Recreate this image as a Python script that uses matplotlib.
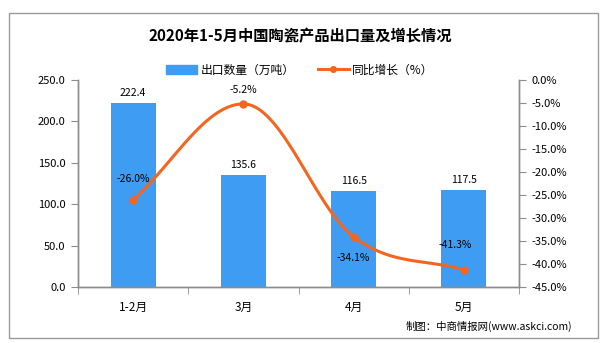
import numpy as np
import matplotlib
matplotlib.use("Agg")
import matplotlib.pyplot as plt
from matplotlib.patches import Rectangle
from matplotlib.lines import Line2D

plt.rcParams['font.family'] = ['Noto Sans CJK SC', 'DejaVu Sans']

categories = ['1-2月', '3月', '4月', '5月']
export_volume = [222.4, 135.6, 116.5, 117.5]
yoy_growth = [-26.0, -5.2, -34.1, -41.3]
left_ticks = [0, 50, 100, 150, 200, 250]
right_ticks = [0, -5, -10, -15, -20, -25, -30, -35, -40, -45]

W, H = 608, 343
fig = plt.figure(figsize=(W / 100, H / 100), dpi=100)
fig.patch.set_facecolor('white')

def fx(px): return px / W
def fy(py): return 1 - py / H

ax = fig.add_axes([fx(78), fy(287), fx(519) - fx(78), fy(80) - fy(287)])
ax2 = ax.twinx()

bar_color = '#3E9DF2'
line_color = '#F4651F'
spine_color = '#8C8C8C'

x = np.arange(len(categories))
ax.bar(x, export_volume, width=0.41, color=bar_color, zorder=2)
ax.set_xlim(-0.5, len(categories) - 0.5)
ax.set_ylim(0, 250)
ax.set_yticks(left_ticks)
ax.set_yticklabels([f'{v:.1f}' for v in left_ticks], fontsize=8)
ax.set_xticks(x)
ax.set_xticklabels(categories, fontsize=8.5)
ax.set_xticks(np.arange(-0.5, len(categories)), minor=True)
ax.tick_params(axis='x', which='major', length=0, pad=10)
ax.tick_params(axis='x', which='minor', length=5, color=spine_color, direction='out')
ax.tick_params(axis='y', length=5, color=spine_color, direction='out', pad=4)

for xi, v in zip(x, export_volume):
    ax.text(xi, v + 6, f'{v:.1f}', ha='center', va='bottom', fontsize=7.5, zorder=5)

# smooth curve through data points (monotone-style bezier, no overshoot)
def smooth(xs, ys, n=40, t=0.7):
    xs = np.asarray(xs, float); ys = np.asarray(ys, float)
    m = len(xs)
    slopes = np.zeros(m)
    for i in range(m):
        if i == 0:
            slopes[i] = (ys[1] - ys[0]) / (xs[1] - xs[0])
        elif i == m - 1:
            slopes[i] = (ys[-1] - ys[-2]) / (xs[-1] - xs[-2])
        else:
            d0 = ys[i] - ys[i - 1]
            d1 = ys[i + 1] - ys[i]
            if d0 * d1 <= 0:
                slopes[i] = 0.0
            else:
                slopes[i] = (ys[i + 1] - ys[i - 1]) / (xs[i + 1] - xs[i - 1])
    px, py = [], []
    for i in range(m - 1):
        x0, y0, x1, y1 = xs[i], ys[i], xs[i + 1], ys[i + 1]
        h = (x1 - x0) * t / 2
        c1x, c1y = x0 + h, y0 + slopes[i] * h
        c2x, c2y = x1 - h, y1 - slopes[i + 1] * h
        lo, hi = min(y0, y1), max(y0, y1)
        c1y = min(max(c1y, lo), hi)
        c2y = min(max(c2y, lo), hi)
        s = np.linspace(0, 1, n)
        bx = (1 - s) ** 3 * x0 + 3 * (1 - s) ** 2 * s * c1x + 3 * (1 - s) * s ** 2 * c2x + s ** 3 * x1
        by = (1 - s) ** 3 * y0 + 3 * (1 - s) ** 2 * s * c1y + 3 * (1 - s) * s ** 2 * c2y + s ** 3 * y1
        px.extend(bx); py.extend(by)
    return np.array(px), np.array(py)

sx, sy = smooth(x, yoy_growth)
ax2.plot(sx, sy, color=line_color, lw=2.2, zorder=3, solid_capstyle='round')
ax2.plot(x, yoy_growth, 'o', color=line_color, ms=5, zorder=4)
ax2.set_ylim(-45, 0)
ax2.set_yticks(right_ticks)
ax2.set_yticklabels([f'{v:.1f}%' for v in right_ticks], fontsize=8)
ax2.tick_params(axis='y', length=5, color=spine_color, direction='out', pad=4)

offsets = [(0, 3.5, 'bottom'), (0, 2.0, 'bottom'), (0, -3.5, 'top'), (-0.08, 4.3, 'bottom')]
for xi, v, (dx, dy, va) in zip(x, yoy_growth, offsets):
    ax2.text(xi + dx, v + dy, f'{v:.1f}%', ha='center', va=va, fontsize=7.5, zorder=5)

for a in (ax, ax2):
    a.spines['top'].set_visible(False)
    for s in ('left', 'right', 'bottom'):
        a.spines[s].set_color(spine_color)
        a.spines[s].set_linewidth(1.0)

# title
fig.text(fx(300), fy(36), '2020年1-5月中国陶瓷产品出口量及增长情况', ha='center', va='center',
         fontsize=11, fontweight='bold')

# legend
handles = [Rectangle((0, 0), 1, 1, color=bar_color),
           Line2D([0], [0], color=line_color, lw=2.2, marker='o', ms=4)]
fig.legend(handles, ['出口数量（万吨）', '同比增长（%）'], loc='center', bbox_to_anchor=(fx(300), fy(70)),
           ncol=2, frameon=False, fontsize=8.5, handlelength=2.6, handleheight=0.7,
           columnspacing=2.0, handletextpad=0.3)

# source
fig.text(fx(572), fy(326), '制图：中商情报网(www.askci.com)', ha='right', va='center', fontsize=7.5)

# outer border
fig.patches.append(Rectangle((fx(9), fy(338)), fx(598) - fx(9), fy(13) - fy(338),
                             transform=fig.transFigure, fill=False, edgecolor='#9A9A9A', lw=1.0))

fig.savefig('out.png', dpi=100)
